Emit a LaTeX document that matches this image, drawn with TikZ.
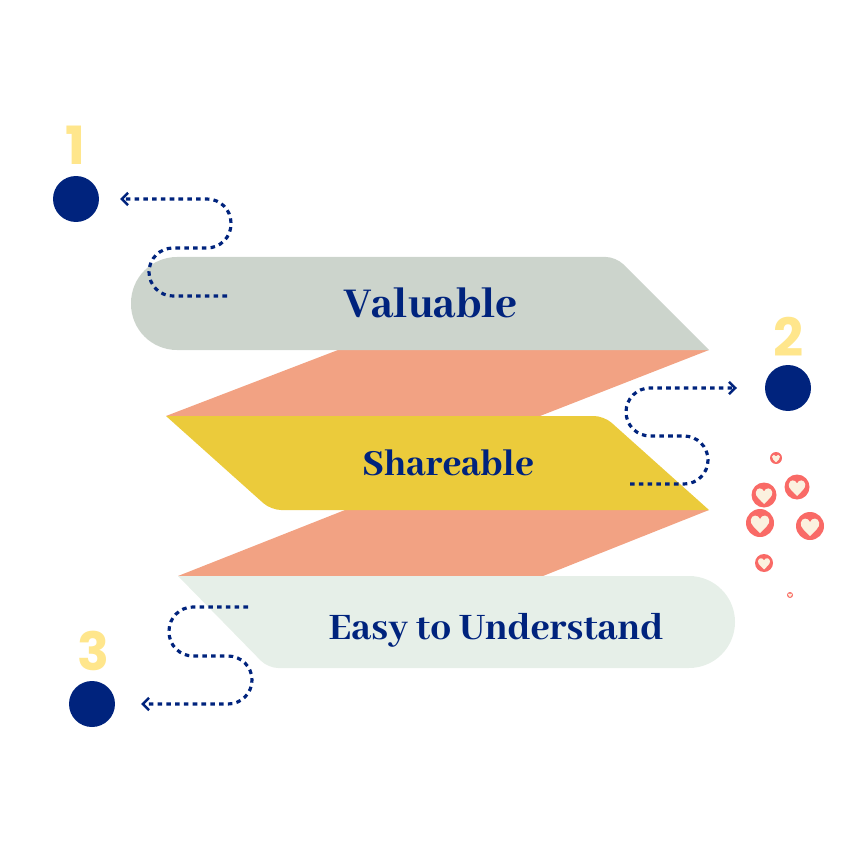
\documentclass[tikz,border=0pt]{standalone}
\usepackage{fontspec}
\usetikzlibrary{arrows.meta}
\newfontfamily\labelfont{Abhaya Libre ExtraBold}
\newfontfamily\numfont{Poppins}[BoldFont={Poppins Bold}]
\definecolor{navy}{HTML}{00237D}
\definecolor{sage}{HTML}{CCD4CC}
\definecolor{salmon}{HTML}{F2A283}
\definecolor{mustard}{HTML}{EBCB3B}
\definecolor{mint}{HTML}{E6EFE8}
\definecolor{numyellow}{HTML}{FFE68C}
\definecolor{bubble}{HTML}{F96A66}
\definecolor{cream}{HTML}{FBF1DF}
\tikzset{
  dot/.style={circle,fill=navy,minimum size=0.92cm,inner sep=0pt},
  num/.style={font=\numfont\bfseries\fontsize{30}{30}\selectfont,text=numyellow,inner sep=0pt},
  band/.style={text=navy,inner sep=0pt,anchor=base},
  route/.style={navy,line width=1.8pt,dash pattern=on 2.6pt off 2.4pt,rounded corners=0.48cm,
    -{Straight Barb[length=3.6pt,width=7pt,line width=1.4pt]}},
}
\newcommand{\heartbub}[3]{%
  \fill[bubble] (#1,#2) circle[radius=#3];
  \fill[cream] (#1,#2+0.72*#3)
    .. controls (#1-0.3*#3,#2+0.4*#3) and (#1-0.72*#3,#2+0.1*#3) .. (#1-0.66*#3,#2-0.22*#3)
    .. controls (#1-0.6*#3,#2-0.62*#3) and (#1-0.12*#3,#2-0.62*#3) .. (#1,#2-0.28*#3)
    .. controls (#1+0.12*#3,#2-0.62*#3) and (#1+0.6*#3,#2-0.62*#3) .. (#1+0.66*#3,#2-0.22*#3)
    .. controls (#1+0.72*#3,#2+0.1*#3) and (#1+0.3*#3,#2+0.4*#3) .. (#1,#2+0.72*#3) -- cycle;
}
\begin{document}
\begin{tikzpicture}[x=0.02cm,y=-0.02cm]
  \useasboundingbox (0,0) rectangle (864,864);
  % salmon bands
  \fill[salmon](338,350)--(709,350)--(540,416)--(166,416)--cycle;
  \fill[salmon](345,510)--(709,510)--(543,576)--(178,576)--cycle;
  % top band
  \fill[sage](709,350)[rounded corners=0.2cm]--(616,257)[rounded corners=0.92cm]--(131,257)--(131,350)
    [sharp corners]--cycle;
  % middle band
  \fill[mustard](166,416)[rounded corners=0.2cm]--(604,416)[sharp corners]--(709,510)
    [rounded corners=0.2cm]--(271,510)[sharp corners]--cycle;
  % bottom band
  \fill[mint](178,576)[rounded corners=0.92cm]--(735,576)--(735,668)[rounded corners=0.2cm]--(268,668)
    [sharp corners]--cycle;
  \node[band,font=\labelfont\fontsize{26.6}{26.6}\selectfont] (valuable) at(431,317){Valuable};
  \node[band,font=\labelfont\fontsize{23}{23}\selectfont] (shareable) at(448,475){Shareable};
  \node[band,font=\labelfont\fontsize{23.4}{23.4}\selectfont] (easy) at(496,639){Easy to Understand};
  % numbered dots
  \node[dot] (dot1) at(76,199){};
  \node[dot] (dot2) at(788,388){};
  \node[dot] (dot3) at(92,704){};
  \node[num] (num1) at(75,145){1};
  \node[num] (num2) at(789,337){2};
  \node[num] (num3) at(93,651){3};
  % dotted routes
  \coordinate (start1) at(227,296);
  \coordinate (tip1) at(120,199);
  \coordinate (start2) at(630,484);
  \coordinate (tip2) at(737,388);
  \coordinate (start3) at(248,607);
  \coordinate (tip3) at(141,704);
  \draw[route](start1)--(149,296)--(149,248)--(231,248)--(231,199)--(tip1);
  \draw[route](start2)--(708,484)--(708,436)--(626,436)--(626,388)--(tip2);
  \draw[route](start3)--(169,607)--(169,656)--(252,656)--(252,704)--(tip3);
  % hearts
  \foreach \hx/\hy/\hr in {776/458/6,797/487/12.5,764/495/12.5,760/523/14,810/526/14,764/563/9,790/595/3}
    {\heartbub{\hx}{\hy}{\hr}}
\end{tikzpicture}
\end{document}
